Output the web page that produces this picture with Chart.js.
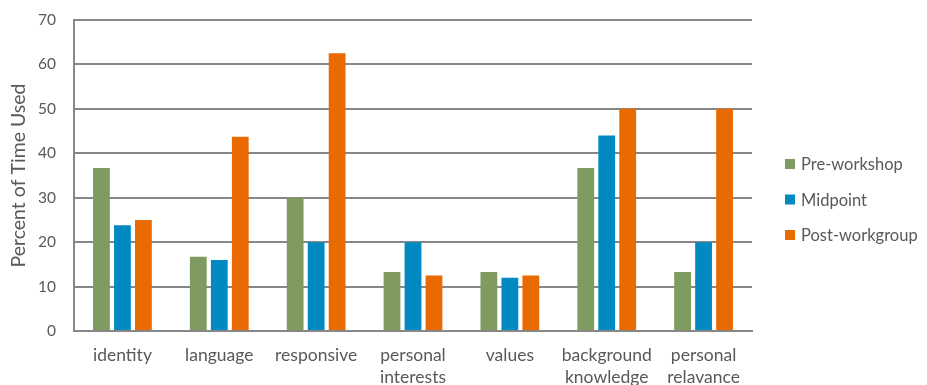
<!DOCTYPE html>
<html>
<head>
<meta charset="utf-8">
<script src="https://cdn.jsdelivr.net/npm/chart.js@4/dist/chart.umd.min.js"></script>
<style>
  html, body { margin: 0; padding: 0; background: #ffffff; }
  #wrap { width: 927px; height: 385px; }
</style>
</head>
<body>
<div id="wrap"><canvas id="chart" width="927" height="385"></canvas></div>
<script>
// Categories (multi-line labels are arrays)
const categories = [
  'identity',
  'language',
  'responsive',
  ['personal', 'interests'],
  'values',
  ['background', 'knowledge'],
  ['personal', 'relavance']
];

// Percent of time used, per phase
const preWorkshop   = [36.7, 16.7, 30.0, 13.3, 13.3, 36.7, 13.3];
const midpoint      = [23.8, 16.0, 20.0, 20.0, 12.0, 44.0, 20.0];
const postWorkgroup = [25.0, 43.75, 62.5, 12.5, 12.5, 50.0, 50.0];

const seriesNames = ['Pre-workshop', 'Midpoint', 'Post-workgroup'];
const yTicks = [0, 10, 20, 30, 40, 50, 60, 70];
const yTitle = 'Percent of Time Used';

const colors = ['#7f9b5f', '#008ac1', '#e96a00'];
const textColor = '#595959';
const gridColor = '#878787';
const fontFamily = 'Lato, "Open Sans", sans-serif';

// Legend drawn to the right of the plot area
const sideLegend = {
  id: 'sideLegend',
  afterDraw(chart) {
    const ctx = chart.ctx;
    ctx.save();
    ctx.font = '16.5px ' + fontFamily;
    ctx.textBaseline = 'middle';
    ctx.textAlign = 'left';
    chart.data.datasets.forEach((ds, i) => {
      const cy = 164 + i * 35.5;
      ctx.fillStyle = ds.backgroundColor;
      ctx.fillRect(785, cy - 5, 10, 10);
      ctx.fillStyle = textColor;
      ctx.fillText(ds.label, 801, cy + 1);
    });
    ctx.restore();
  }
};

const datasets = [preWorkshop, midpoint, postWorkgroup].map((vals, i) => ({
  label: seriesNames[i],
  data: vals,
  backgroundColor: colors[i],
  borderWidth: 0,
  barPercentage: 0.8,
  categoryPercentage: 0.65
}));

new Chart(document.getElementById('chart'), {
  type: 'bar',
  data: { labels: categories, datasets },
  plugins: [sideLegend],
  options: {
    responsive: false,
    animation: false,
    layout: { padding: { top: 20, right: 175, left: 0, bottom: 0 } },
    plugins: {
      legend: { display: false },
      tooltip: { enabled: false }
    },
    scales: {
      x: {
        grid: { display: false, drawTicks: false },
        border: { display: true, color: gridColor, width: 2 },
        ticks: {
          color: textColor,
          font: { family: fontFamily, size: 17.5, lineHeight: 1.24 },
          padding: 14,
          autoSkip: false,
          maxRotation: 0,
          minRotation: 0
        },
        afterFit(scale) {
          scale.height = 54;
          scale.paddingLeft = 0;
          scale.paddingRight = 0;
        }
      },
      y: {
        min: 0,
        max: 70,
        afterBuildTicks(scale) { scale.ticks = yTicks.map(v => ({ value: v })); },
        grid: { color: gridColor, lineWidth: 2, drawTicks: false },
        border: { display: true, color: gridColor, width: 2 },
        ticks: {
          color: textColor,
          font: { family: fontFamily, size: 15.5 },
          padding: 18
        },
        title: {
          display: true,
          text: yTitle,
          color: textColor,
          font: { family: fontFamily, size: 19.5, lineHeight: 1.2 },
          padding: { top: 7, bottom: 0 }
        },
        afterFit(scale) {
          scale.width = 74;
          scale.paddingTop = 0;
          scale.paddingBottom = 0;
        }
      }
    }
  }
});
</script>
</body>
</html>
